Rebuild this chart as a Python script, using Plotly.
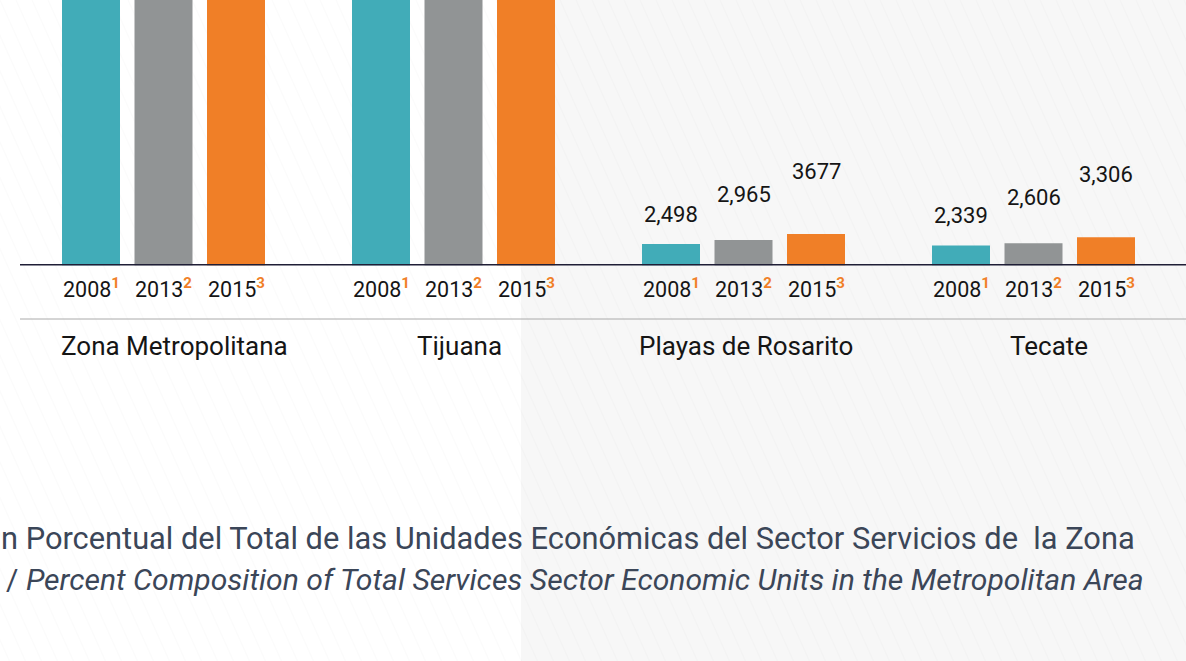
import plotly.graph_objects as go

W, H = 1186, 661

groups = ["Zona Metropolitana", "Tijuana", "Playas de Rosarito", "Tecate"]
years = ["2008", "2013", "2015"]
year_notes = ["1", "2", "3"]
# values per year series (Zona Metropolitana / Tijuana run off the top of the crop; estimated)
v2008 = [43000, 38000, 2498, 2339]
v2013 = [48500, 43000, 2965, 2606]
v2015 = [54000, 47000, 3677, 3306]
value_labels_2008 = ["", "", "2,498", "2,339"]
value_labels_2013 = ["", "", "2,965", "2,606"]
value_labels_2015 = ["", "", "3677", "3,306"]

series = [v2008, v2013, v2015]
series_labels = [value_labels_2008, value_labels_2013, value_labels_2015]
colors = ["#41acb8", "#919495", "#f07f27"]
Y_MAX = 31000

title_es = "n Porcentual del Total de las Unidades Económicas del Sector Servicios de&nbsp; la Zona"
title_en = "/ <i>Percent Composition of Total Services Sector Economic Units in the Metropolitan Area</i>"

FONT = "Roboto"

fig = go.Figure()
for s, vals in enumerate(series):
    fig.add_trace(go.Bar(
        x=groups, y=vals, name=years[s],
        marker=dict(color=colors[s], line=dict(width=0)),
        cliponaxis=True, hoverinfo="skip",
    ))

# pixel geometry helpers for layout
x_left, x_right = 18.5, 1178.5
y_base = 265.5
bar_step_px = (x_right - x_left) / 4 * 0.25
group_label_shift = [11, 6, 2, 15]

annotations = []
label_shift = [30, 46, 63]
for s, vals in enumerate(series):
    off = (s - 1) * bar_step_px
    for g, name in enumerate(groups):
        # year labels under each bar
        annotations.append(dict(
            x=name, y=0, xref="x", yref="y", xshift=off, yshift=-22,
            text=f"{years[s]}<sup><b><span style='color:#f08027'>{year_notes[s]}</span></b></sup>",
            showarrow=False, font=dict(family=FONT, size=21.5, color="#151515"),
            xanchor="center", yanchor="middle",
        ))
        if vals[g] < Y_MAX and series_labels[s][g]:
            annotations.append(dict(
                x=name, y=vals[g], xref="x", yref="y", xshift=off,
                yshift=label_shift[s],
                text=series_labels[s][g], showarrow=False,
                font=dict(family=FONT, size=22, color="#151515"),
                xanchor="center", yanchor="middle",
            ))

# group names
for g, name in enumerate(groups):
    annotations.append(dict(
        x=name, y=1 - 346 / H, xref="x", yref="paper", xshift=group_label_shift[g],
        text=name, showarrow=False, xanchor="center", yanchor="middle",
        font=dict(family=FONT, size=26, color="#151515"),
    ))

annotations.append(dict(
    x=-1 / W, y=1 - 538 / H, xref="paper", yref="paper", text=title_es,
    showarrow=False, xanchor="left", yanchor="middle",
    font=dict(family=FONT, size=30.8, color="#3b4658"),
))
annotations.append(dict(
    x=4 / W, y=1 - 579 / H, xref="paper", yref="paper", text=title_en,
    showarrow=False, xanchor="left", yanchor="middle",
    font=dict(family=FONT, size=30.1, color="#3b4658"),
))

shapes = []
# right grey panel
shapes.append(dict(type="rect", xref="paper", yref="paper", x0=521 / W, x1=1, y0=0, y1=1,
                   fillcolor="#f7f7f7", line=dict(width=0), layer="below"))
# faint diagonal texture
path = ""
x0 = -400
while x0 < W + 20:
    path += f"M{x0 / W:.5f},1 L{(x0 + 0.45 * H) / W:.5f},0 "
    x0 += 16
shapes.append(dict(type="path", xref="paper", yref="paper", path=path,
                   line=dict(color="rgba(0,0,0,0.016)", width=1.5), layer="below"))
# baseline
shapes.append(dict(type="line", xref="paper", yref="y", x0=20 / W, x1=1, y0=0, y1=0,
                   line=dict(color="#1f1e36", width=3), layer="above"))
# separator line
shapes.append(dict(type="line", xref="paper", yref="paper", x0=20 / W, x1=1,
                   y0=1 - 319 / H, y1=1 - 319 / H,
                   line=dict(color="#aaaaaa", width=1)))

fig.update_layout(
    width=W, height=H,
    margin=dict(l=0, r=0, t=0, b=0),
    paper_bgcolor="white", plot_bgcolor="rgba(0,0,0,0)",
    barmode="group", bargap=0.25, bargroupgap=0.2,
    showlegend=False,
    annotations=annotations, shapes=shapes,
    xaxis=dict(
        domain=[x_left / W, x_right / W], range=[-0.5, 3.5], type="category",
        categoryorder="array", categoryarray=groups,
        showgrid=False, zeroline=False, showline=False, showticklabels=False, ticks="",
    ),
    yaxis=dict(
        domain=[1 - y_base / H, 1], range=[0, Y_MAX],
        showgrid=False, zeroline=False, showline=False, showticklabels=False, ticks="",
    ),
)

fig.write_html("out.html", config={"displayModeBar": False},
               post_script="document.body.style.margin='0';document.body.style.padding='0';")
